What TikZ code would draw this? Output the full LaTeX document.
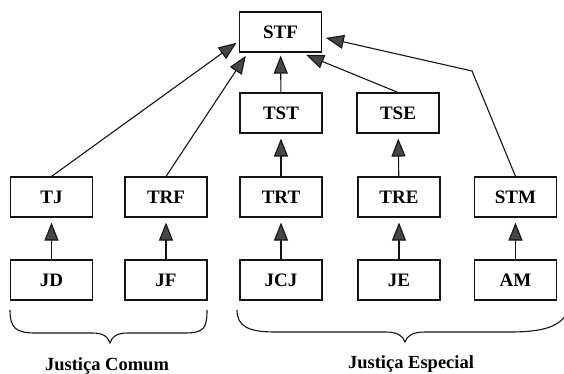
\documentclass[tikz,border=0pt]{standalone}
\usepackage{fontspec}
\setmainfont{Liberation Serif}
\definecolor{LineColor}{RGB}{20,20,20}
\definecolor{TipFill}{RGB}{70,70,70}
\usepackage{tikz}
\usetikzlibrary{arrows.meta}

\begin{document}
\begin{tikzpicture}[x=1pt, y=-1pt,
    court/.style={draw=LineColor, line width=1.1pt, minimum width=82pt, minimum height=40pt,
      inner sep=0pt, font=\fontsize{19}{21}\selectfont\bfseries},
    appeal/.style={draw=LineColor, line width=1.1pt,
      -{Triangle[length=18pt, width=14pt, fill=TipFill]}},
    brace/.style={draw=LineColor, line width=1.1pt},
    grp/.style={font=\fontsize{18.5}{20}\selectfont\bfseries}]
  \clip (0,0) rectangle (564,374);
  % top court and superior courts
  \node[court] (STF) at (280.5,32) {STF};
  \node[court] (TST) at (281,113) {TST};
  \node[court] (TSE) at (398,113) {TSE};
  % second instance
  \node[court] (TJ) at (51.5,197) {TJ};
  \node[court] (TRF) at (166,197) {TRF};
  \node[court] (TRT) at (281,197) {TRT};
  \node[court] (TRE) at (399,197) {TRE};
  \node[court] (STM) at (515.5,197) {STM};
  % first instance
  \node[court] (JD) at (51.5,280) {JD};
  \node[court] (JF) at (166,280) {JF};
  \node[court] (JCJ) at (281,280) {JCJ};
  \node[court] (JE) at (399,280) {JE};
  \node[court] (AM) at (515.5,280) {AM};
  \coordinate (bend) at (472,71);
  % appeals
  \draw[appeal, shorten >=5pt] (JD) -- (TJ);
  \draw[appeal, shorten >=5pt] (JF) -- (TRF);
  \draw[appeal, shorten >=5pt] (JCJ) -- (TRT);
  \draw[appeal, shorten >=5pt] (JE) -- (TRE);
  \draw[appeal, shorten >=5pt] (AM) -- (STM);
  \draw[appeal, shorten >=5pt] (TRT) -- (TST);
  \draw[appeal, shorten >=5pt] (TRE) -- (TSE);
  \draw[appeal, shorten >=3pt] (TST) -- (STF);
  \draw[appeal, shorten >=3pt] (TJ.north) -- ([yshift=-9pt]STF.west);
  \draw[appeal, shorten >=4pt] (TRF.north) -- ([xshift=9pt]STF.south west);
  \draw[appeal, shorten >=6pt] (TSE.north) -- ([xshift=20pt]STF.south);
  \draw[appeal, shorten >=4pt] (STM.north) -- (bend) -- ([yshift=-5pt]STF.east);
  % groups
  \draw[brace] (10,310) .. controls (10,328) and (16,333) .. (35,333) -- (92,333)
    .. controls (104,333) and (108,337) .. (110,343)
    .. controls (112,337) and (116,333) .. (128,333) -- (185,333)
    .. controls (204,333) and (207,328) .. (207,310);
  \draw[brace] (237,310) .. controls (237,326) and (248,332) .. (275,332) -- (385,332)
    .. controls (398,332) and (403,336) .. (405,342)
    .. controls (407,336) and (412,332) .. (425,332) -- (510,332)
    .. controls (545,332) and (560,326) .. (568,312);
  \node[grp, anchor=base] (comum) at (107,370) {Justiça Comum};
  \node[grp, anchor=base] (especial) at (411,368) {Justiça Especial};
\end{tikzpicture}
\end{document}
